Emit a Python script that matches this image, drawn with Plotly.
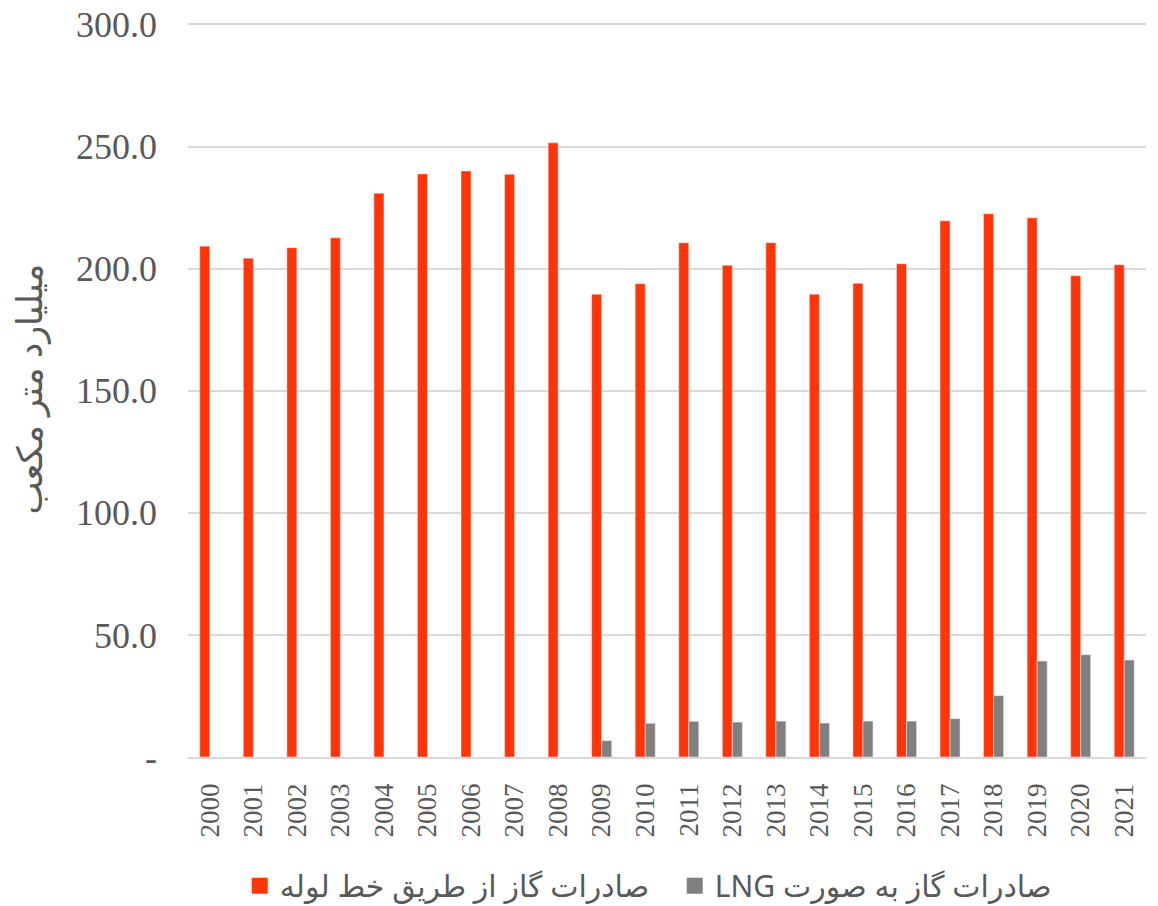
import plotly.graph_objects as go

years = [str(y) for y in range(2000, 2022)]
pipeline = [209.2, 204.3, 208.6, 212.6, 230.9, 238.8, 240.0, 238.6, 251.5, 189.5,
            193.8, 210.6, 201.4, 210.6, 189.5, 194.0, 202.0, 219.6, 222.5, 220.8,
            197.1, 201.6]
lng = [None, None, None, None, None, None, None, None, None, 6.7,
       13.8, 14.6, 14.3, 14.7, 13.9, 14.7, 14.7, 15.7, 25.1, 39.3,
       41.9, 39.7]
ytick_vals = [0, 50, 100, 150, 200, 250, 300]
ytick_text = ["-", "50.0", "100.0", "150.0", "200.0", "250.0", "300.0"]

name_pipe = "صادرات گاز از طریق خط لوله"
name_lng = "صادرات گاز به صورت LNG"
ytitle = "میلیارد متر مکعب"
red = "#FF3508"
grey = "#808080"

RLE, PDF = "\u202B", "\u202C"

fig = go.Figure()
fig.add_trace(go.Bar(x=years, y=pipeline, name=name_pipe, marker_color=red, showlegend=False))
fig.add_trace(go.Bar(x=years, y=lng, name=name_lng, marker_color=grey, showlegend=False))
# legend entries with larger square symbols
fig.add_trace(go.Scatter(x=[None], y=[None], mode="markers", name=RLE + name_pipe + PDF,
                         marker=dict(symbol="square", size=20, color=red)))
fig.add_trace(go.Scatter(x=[None], y=[None], mode="markers", name=RLE + name_lng + PDF,
                         marker=dict(symbol="square", size=20, color=grey)))

fig.update_layout(
    width=1158, height=906,
    paper_bgcolor="white", plot_bgcolor="white",
    barmode="group", bargap=0.54, bargroupgap=0,
    margin=dict(l=188, r=12, t=22, b=149, autoexpand=False),
    showlegend=True,
    legend=dict(orientation="h", x=0.054, xanchor="left", y=-0.175, yanchor="middle",
                font=dict(family="Noto Sans, DejaVu Sans", size=30, color="#595959"),
                itemwidth=30, traceorder="normal", entrywidth=390),
    font=dict(color="#595959"),
    annotations=[dict(text=ytitle, textangle=-90, xref="paper", yref="paper",
                      x=-0.167, y=0.50, xanchor="center", yanchor="middle", showarrow=False,
                      font=dict(family="Noto Sans, DejaVu Sans", size=35, color="#595959"))],
)
fig.update_yaxes(range=[0, 301], tickvals=ytick_vals, ticktext=ytick_text,
                 showgrid=True, gridcolor="#d9d9d9", gridwidth=1.5,
                 zeroline=False, showline=False, ticks="", automargin=False,
                 tickfont=dict(family="Liberation Serif", size=36, color="#595959"),
                 ticklabelstandoff=30)
fig.update_xaxes(tickangle=-90, showline=True, linecolor="#d9d9d9", linewidth=1.5,
                 ticks="", showgrid=False, automargin=False, ticklabelstandoff=14,
                 tickfont=dict(family="Liberation Serif", size=27, color="#595959"))

fig.write_html("out.html", config={"displayModeBar": False},
               post_script="document.body.style.margin='0';")
